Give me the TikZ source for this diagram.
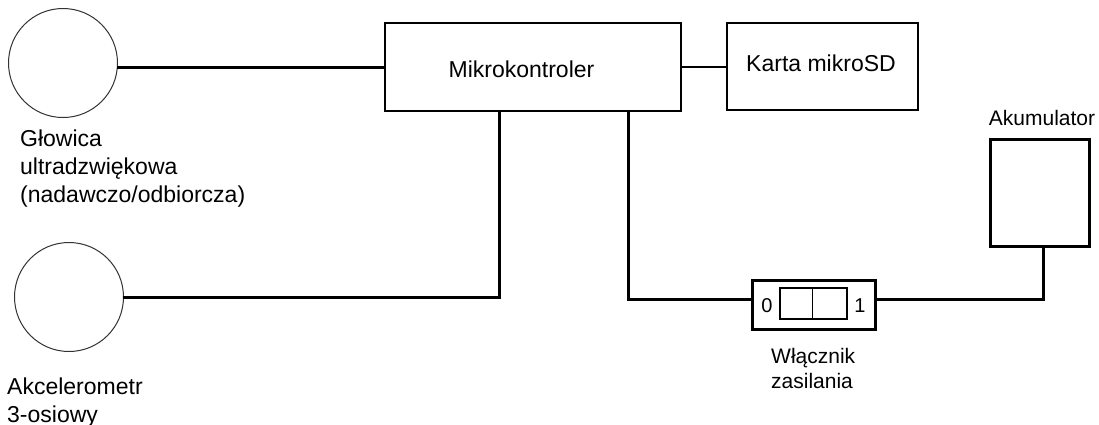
\documentclass[tikz,border=0pt]{standalone}
\usepackage{fontspec}
\setmainfont{Liberation Sans}
\usetikzlibrary{calc}

\tikzset{
  wire/.style={line width=3pt, line cap=rect},
  thinwire/.style={line width=2pt},
  block/.style={draw, line width=2pt, inner sep=0pt, rectangle},
  heavyblock/.style={draw, line width=3pt, inner sep=0pt, rectangle},
  sensor/.style={draw=black!80, line width=1pt, circle, inner sep=0pt, minimum size=109pt},
  bigtext/.style={font=\fontsize{23}{28}\selectfont, inner sep=0pt, align=left},
  smalltext/.style={font=\fontsize{21}{25}\selectfont, inner sep=0pt, align=left},
  digit/.style={font=\fontsize{20}{24}\selectfont, inner sep=0pt}
}

\begin{document}
\begin{tikzpicture}[x=1pt, y=-1pt]
  \path[use as bounding box, fill=white] (0,0) rectangle (1099,424);

  % sensors
  \node[sensor] (head) at (63,63) {};
  \node[sensor] (accel) at (69,297) {};

  % main blocks
  \node[block, minimum width=296pt, minimum height=88pt] (mcu) at (533,67) {};
  \node[bigtext, anchor=base] (mcutext) at (521.5,77) {Mikrokontroler};
  \node[block, minimum width=191pt, minimum height=87pt] (sd) at (822.5,66.5) {};
  \node[bigtext, anchor=base] (sdtext) at (821,71) {Karta mikroSD};

  % battery
  \node[heavyblock, minimum width=99pt, minimum height=107pt] (akku) at (1039.5,192.5) {};
  \node[smalltext, anchor=base] (akkutext) at (1042,125) {Akumulator};

  % power switch
  \node[heavyblock, minimum width=123pt, minimum height=49pt] (sw) at (813.5,304.5) {};
  \node[block, minimum width=67pt, minimum height=31pt] (swin) at (813.5,303.5) {};
  \draw[line width=1pt] ([xshift=-1.5pt]swin.north) -- ([xshift=-1.5pt]swin.south);
  \node[digit, anchor=base] (off) at (767,312) {0};
  \node[digit, anchor=base] (on) at (860,312) {1};
  % multi-line labels are placed by the baseline of their last line
  \node[smalltext, anchor=base west] (swtext) at (771,388) {Włącznik\\zasilania};

  % labels of the sensors
  \node[bigtext, anchor=base west] (headtext) at (20,202)
    {Głowica\\ultradzwiękowa\\(nadawczo/odbiorcza)};
  \node[bigtext, anchor=base west] (acceltext) at (7,422)
    {Akcelerometr\\3-osiowy};

  % connections
  \draw[wire] (head.east |- mcu.west) -- (mcu.west);
  \draw[thinwire] (mcu.east) -- (mcu.east -| sd.west);
  \draw[wire] ([xshift=-34pt]mcu.south) |- (accel.east);
  \draw[wire] ([xshift=95pt]mcu.south) |- ([yshift=5.5pt]sw.west);
  \draw[wire] ([yshift=5.5pt]sw.east) -| ([xshift=3.5pt]akku.south);
\end{tikzpicture}
\end{document}
